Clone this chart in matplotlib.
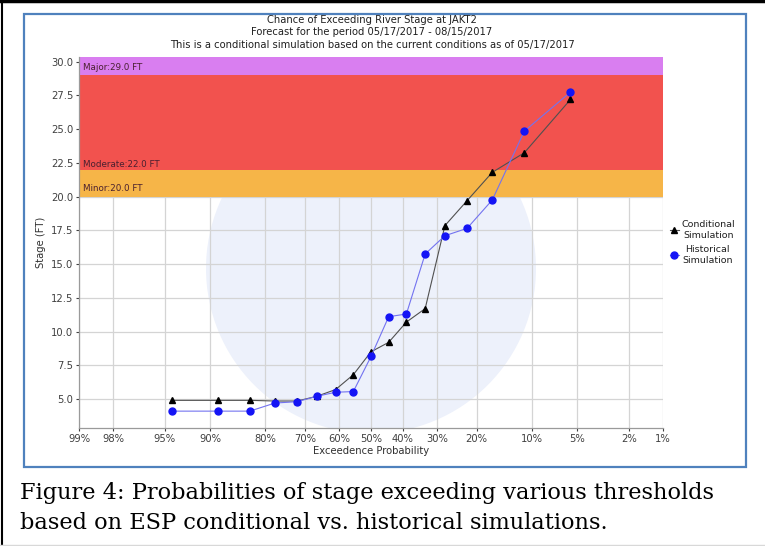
import numpy as np
import matplotlib
matplotlib.use("Agg")
import matplotlib.pyplot as plt
from matplotlib.patches import Rectangle, Ellipse
from statistics import NormalDist

# ---- data ----
exceed_prob = [94.4, 88.9, 83.3, 77.8, 72.2, 66.7, 61.1, 55.6, 50.0,
               44.4, 38.9, 33.3, 27.8, 22.2, 16.7, 11.1, 5.6]
conditional = [4.9, 4.9, 4.9, 4.85, 4.85, 5.2, 5.7, 6.8, 8.5,
               9.2, 10.7, 11.7, 17.85, 19.7, 21.8, 23.25, 27.2]
historical = [4.1, 4.1, 4.1, 4.7, 4.8, 5.2, 5.5, 5.55, 8.15,
              11.1, 11.3, 15.75, 17.1, 17.65, 19.75, 24.85, 27.75]
xtick_vals = [99, 98, 95, 90, 80, 70, 60, 50, 40, 30, 20, 10, 5, 2, 1]
xtick_labels = [f"{v}%" for v in xtick_vals]
ytick_vals = [5.0, 7.5, 10.0, 12.5, 15.0, 17.5, 20.0, 22.5, 25.0, 27.5, 30.0]

nd = NormalDist()
_inv = np.vectorize(nd.inv_cdf, otypes=[float])
_cdf = np.vectorize(nd.cdf, otypes=[float])


def fwd(p):
    p = np.clip(np.asarray(p, dtype=float) / 100.0, 1e-9, 1 - 1e-9)
    return _inv(p)


def inv(z):
    return _cdf(np.asarray(z, dtype=float)) * 100.0


fig = plt.figure(figsize=(7.65, 5.46), dpi=100)
W, H = 765, 546

ax_w, ax_h = 663 - 79, 428 - 57
ax = fig.add_axes([79 / W, 1 - 428 / H, ax_w / W, ax_h / H])
ax.set_xscale("function", functions=(fwd, inv))
ax.set_xlim(99, 1)
ax.set_ylim(2.85, 30.35)

# faint watermark (round in pixels)
r = 165
wm = Ellipse((0.50, 0.43), 2 * r / ax_w, 2 * r / ax_h, transform=ax.transAxes,
             facecolor="#edf1fb", edgecolor="none", zorder=0.2)
ax.add_patch(wm)

# flood bands
ax.axhspan(20.0, 22.0, color="#f6b548", zorder=1, lw=0)
ax.axhspan(22.0, 29.0, color="#f2524e", zorder=1, lw=0)
ax.axhspan(29.0, 30.35, color="#d97ef0", zorder=1, lw=0)
txt_kw = dict(transform=ax.get_yaxis_transform(), fontsize=6.3,
              color="#4a2030", va="center", ha="left", zorder=3)
ax.text(0.006, 29.6, "Major:29.0 FT", **txt_kw)
ax.text(0.006, 22.35, "Moderate:22.0 FT", **txt_kw)
ax.text(0.006, 20.6, "Minor:20.0 FT", **txt_kw)

ax.set_axisbelow(True)
ax.grid(True, color="#d4d4d4", lw=0.9)

ax.plot(exceed_prob, conditional, color="#505050", lw=0.8, marker="^",
        ms=4.5, mfc="black", mec="black", zorder=4, label="Conditional\nSimulation")
ax.plot(exceed_prob, historical, color="#7373f0", lw=0.8, marker="o",
        ms=5, mfc="#1414f5", mec="#1414f5", zorder=5, label="Historical\nSimulation")

ax.set_xticks(xtick_vals)
ax.set_xticklabels(xtick_labels)
ax.xaxis.set_minor_locator(matplotlib.ticker.NullLocator())
ax.set_yticks(ytick_vals)
ax.set_yticklabels([f"{v:.1f}" for v in ytick_vals])
ax.tick_params(labelsize=7.2, colors="#404040", length=2, width=0.8, pad=2)
for s in ["top", "right"]:
    ax.spines[s].set_visible(False)
for s in ["left", "bottom"]:
    ax.spines[s].set_color("#9a9a9a")
    ax.spines[s].set_linewidth(0.9)

ax.set_xlabel("Exceedence Probability", fontsize=7.2, color="#303030", labelpad=2)
ax.set_ylabel("Stage (FT)", fontsize=7.2, color="#303030", labelpad=4)

fig.text(372 / W, 1 - 20 / H, "Chance of Exceeding River Stage at JAKT2",
         ha="center", va="center", fontsize=7.2, color="#202020")
fig.text(372 / W, 1 - 32 / H, "Forecast for the period 05/17/2017 - 08/15/2017",
         ha="center", va="center", fontsize=7.2, color="#202020")
fig.text(372 / W, 1 - 45 / H,
         "This is a conditional simulation based on the current conditions as of 05/17/2017",
         ha="center", va="center", fontsize=7.2, color="#202020")

leg = ax.legend(loc="center left", bbox_to_anchor=(1.005, 0.5), frameon=False,
                fontsize=6.8, handlelength=1.0, handletextpad=0.3,
                labelspacing=0.6, borderaxespad=0)
for t in leg.get_texts():
    t.set_ha("center")
    t.set_color("#202020")

# frames
fig.patches.append(Rectangle((24 / W, 1 - 467 / H), (746 - 24) / W, (467 - 14) / H,
                             transform=fig.transFigure, fill=False,
                             edgecolor="#4f81bd", lw=1.6))
fig.add_artist(plt.Line2D([1.5 / W, 1.5 / W], [0, 1], transform=fig.transFigure,
                          color="black", lw=1.5))
fig.add_artist(plt.Line2D([0, 1], [1 - 1.2 / H, 1 - 1.2 / H], transform=fig.transFigure,
                          color="black", lw=2.5))
fig.add_artist(plt.Line2D([0, 1], [1 - 544.5 / H, 1 - 544.5 / H], transform=fig.transFigure,
                          color="#d8d8d8", lw=1))

fig.text(20 / W, 1 - 493 / H,
         "Figure 4: Probabilities of stage exceeding various thresholds",
         ha="left", va="center", fontsize=16.2, family="DejaVu Serif", color="black")
fig.text(20 / W, 1 - 523 / H,
         "based on ESP conditional vs. historical simulations.",
         ha="left", va="center", fontsize=16.2, family="DejaVu Serif", color="black")

fig.savefig("out.png", dpi=100)
